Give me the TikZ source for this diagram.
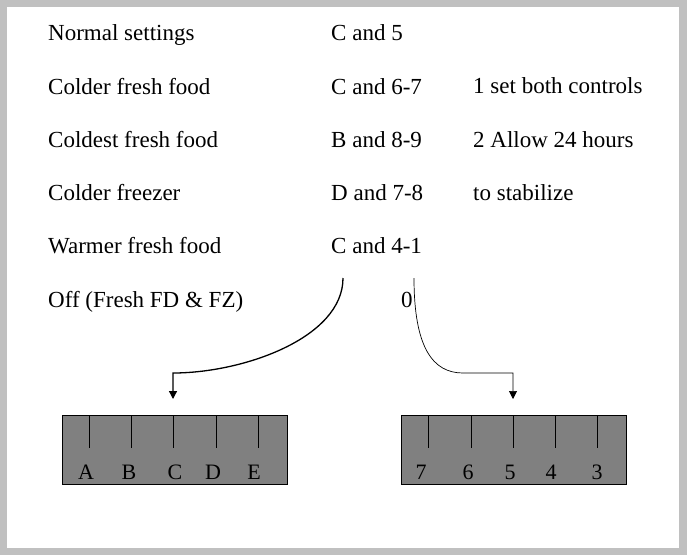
\documentclass[tikz,border=0pt]{standalone}
\usepackage{fontspec}
\setmainfont{Liberation Serif}
\usetikzlibrary{arrows.meta}
\definecolor{framegray}{HTML}{C0C0C0}
\definecolor{dialgray}{HTML}{808080}

\begin{document}
\begin{tikzpicture}[>/.tip={Triangle[width=8pt,length=8pt]}, x=1pt, y=-1pt,
	txt/.style={anchor=base west, inner sep=0pt, font=\fontsize{23}{27}\selectfont},
	dialmark/.style={anchor=base, inner sep=0pt, font=\fontsize{22}{26}\selectfont},
	dialbox/.style={draw, fill=dialgray, minimum width=225pt, minimum height=69pt, anchor=north west, inner sep=0pt}]
	\fill[white] (0,0) rectangle (696,555);
	\fill[framegray] (0,0) rectangle (687,555);
	\fill[white] (7,7) rectangle (679,548);
	% settings table
	\draw (48,40) node (set1) [txt] {Normal settings};
	\draw (48,94) node (set2) [txt] {Colder fresh food};
	\draw (48,147) node (set3) [txt] {Coldest fresh food};
	\draw (48,200) node (set4) [txt] {Colder freezer};
	\draw (48,253) node (set5) [txt] {Warmer fresh food};
	\draw (48,307) node (set6) [txt] {Off (Fresh FD \& FZ)};
	\draw (331,40) node (val1) [txt] {C and 5};
	\draw (331,94) node (val2) [txt] {C and 6-7};
	\draw (331,147) node (val3) [txt] {B and 8-9};
	\draw (331,200) node (val4) [txt] {D and 7-8};
	\draw (331,253) node (val5) [txt] {C and 4-1};
	\draw (401,307) node (val6) [txt] {0};
	\draw (473,93) node (note1) [txt] {1 set both controls};
	\draw (473,147) node (note2) [txt] {2 Allow 24 hours};
	\draw (473,200) node (note3) [txt] {to stabilize};
	
	% the two dials
	\draw (62,415) node (ffdial) [dialbox] {};
	\draw (401,415) node (fzdial) [dialbox] {};
	\foreach \x/\n in {89/A,131/B,173/C,216/D,258/E}
		\draw (\x,415) coordinate (ff\n) -- (\x,448);
	\foreach \x/\n in {428/7,471/6,513/5,555/4,597/3}
		\draw (\x,415) coordinate (fz\n) -- (\x,448);
	\foreach \x/\n in {86/A,129/B,175/C,213/D,254/E}
		\draw (\x,479) node (ffl\n) [dialmark] {\n};
	\foreach \x/\n in {421/7,468/6,510/5,551/4,597/3}
		\draw (\x,479) node (fzl\n) [dialmark] {\n};
	
	\coordinate (ffstart) at (343,278);
	\coordinate (ffbend) at (173,373);
	\coordinate (fzstart) at (414,278);
	\coordinate (fzbend) at (463,373);
	\draw[->, line width=1.3pt, shorten >=16pt] (ffstart) .. controls (343,338) and (243,373) .. (ffbend) -- (ffC);
	\draw[->, line width=0.7pt, shorten >=16pt] (fzstart) .. controls (414,348) and (433,373) .. (fzbend) -| (fz5);
\end{tikzpicture}
\end{document}
